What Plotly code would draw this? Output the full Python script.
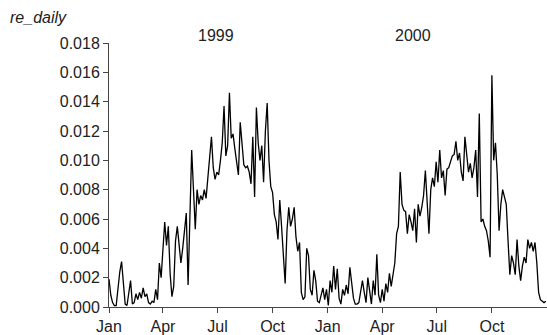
import pandas as pd
import plotly.graph_objects as go

# Daily series sampled every third day, Jan 1999 - Dec 2000, in units of 1e-4
START = "1999-01-01"
STEP_DAYS = 3
UNIT = 1e-4
re_daily_e4 = [
    19, 8, 3, 1, 1, 14, 24, 31, 15, 2, 1, 10, 18, 2, 3, 9, 5, 10, 6, 13,
    7, 9, 3, 2, 4, 3, 12, 5, 30, 20, 39, 58, 42, 55, 23, 7, 14, 45, 55, 42,
    30, 40, 55, 64, 15, 63, 107, 80, 53, 80, 70, 76, 73, 80, 74, 88, 100, 116, 95, 87,
    92, 90, 100, 112, 137, 103, 110, 146, 115, 118, 108, 100, 90, 126, 108, 97, 95, 96, 92, 84,
    116, 75, 136, 112, 100, 110, 85, 120, 139, 100, 82, 78, 63, 58, 46, 73, 55, 35, 16, 52,
    68, 55, 60, 68, 48, 38, 44, 10, 5, 7, 40, 35, 12, 8, 25, 18, 4, 3, 8, 13,
    5, 12, 1, 18, 10, 28, 12, 26, 6, 2, 12, 8, 15, 9, 27, 15, 6, 2, 2, 3,
    10, 18, 10, 3, 20, 12, 2, 18, 8, 36, 8, 3, 12, 4, 16, 10, 23, 14, 22, 30,
    50, 55, 92, 70, 66, 65, 50, 63, 58, 52, 67, 44, 70, 62, 68, 76, 93, 70, 50, 80,
    88, 82, 99, 85, 107, 88, 93, 76, 94, 95, 100, 103, 104, 113, 100, 105, 92, 86, 116, 105,
    92, 98, 88, 95, 107, 75, 132, 58, 60, 55, 52, 45, 34, 158, 100, 112, 90, 52, 70, 80,
    75, 70, 45, 22, 35, 30, 22, 46, 28, 18, 28, 34, 30, 46, 40, 44, 38, 44, 30, 10,
    5, 4, 3, 4,
]

tick_dates = ["1999-01-01", "1999-04-01", "1999-07-01", "1999-10-01",
              "2000-01-01", "2000-04-01", "2000-07-01", "2000-10-01"]
tick_text = ["Jan", "Apr", "Jul", "Oct", "Jan", "Apr", "Jul", "Oct"]
year_labels = ["1999", "2000"]
year_label_dates = ["1999-06-28", "2000-05-22"]

dates = pd.date_range(START, periods=len(re_daily_e4), freq=f"{STEP_DAYS}D")
values = [v * UNIT for v in re_daily_e4]

FONT = "Liberation Sans, Arial, sans-serif"
TEXT = "#222222"
AXIS = "#444444"

# plot area in pixels: left margin 109, width 438, top margin 43, height 264
L, W, T, H = 109, 438, 43, 264

fig = go.Figure()
fig.add_trace(go.Scatter(
    x=dates, y=values, mode="lines",
    line=dict(color="#000000", width=1.3),
    hoverinfo="skip", showlegend=False,
))

for label, d in zip(year_labels, year_label_dates):
    fig.add_annotation(
        x=d, xref="x", y=1 + (T - 35) / H, yref="paper", yanchor="middle",
        text=label, showarrow=False,
        font=dict(family=FONT, size=16, color=TEXT),
    )

fig.add_annotation(
    x=(8 - L) / W, xref="paper", xanchor="left",
    y=1 + (T - 17) / H, yref="paper", yanchor="middle",
    text="<i>re_daily</i>", showarrow=False,
    font=dict(family=FONT, size=16, color=TEXT),
)

fig.update_layout(
    width=547, height=335,
    margin=dict(l=L, r=0, t=T, b=335 - T - H),
    paper_bgcolor="white", plot_bgcolor="white",
    font=dict(family=FONT, size=16, color=TEXT),
)
fig.update_xaxes(
    type="date", range=["1999-01-01", "2001-01-01"],
    tickvals=tick_dates, ticktext=tick_text,
    showgrid=False, zeroline=False,
    showline=True, linecolor=AXIS, linewidth=1,
    ticks="outside", ticklen=5, tickcolor=AXIS,
    tickfont=dict(family=FONT, size=16, color=TEXT),
)
fig.update_yaxes(
    range=[0, 0.018], dtick=0.002, tickformat=".3f",
    showgrid=False, zeroline=False,
    showline=True, linecolor=AXIS, linewidth=1,
    ticks="outside", ticklen=5, tickcolor=AXIS,
    tickfont=dict(family=FONT, size=16, color=TEXT),
)

fig.write_html("out.html")
